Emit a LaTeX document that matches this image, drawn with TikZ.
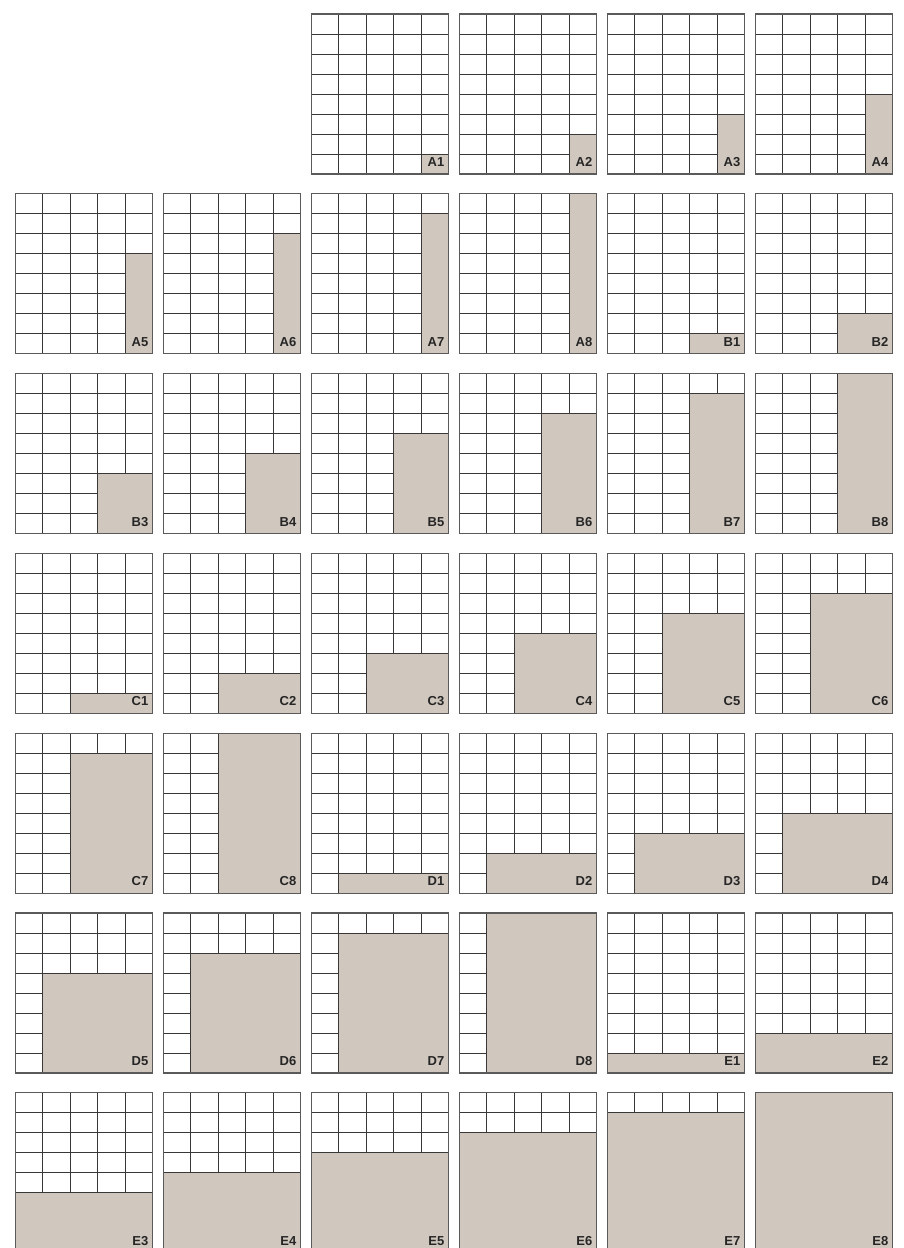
\documentclass[tikz,border=0pt]{standalone}
\usepackage{fontspec}
\setsansfont{Liberation Sans}
\usepackage{tikz}
\definecolor{filled}{HTML}{D0C7BE}
\definecolor{gridc}{HTML}{383838}
\definecolor{framec}{HTML}{5A5A5A}
\definecolor{tagc}{HTML}{262626}
\tikzset{
  cellline/.style={draw=gridc, line width=1pt},
  panelframe/.style={draw=framec, line width=1.2pt},
  block/.style={fill=filled},
  tag/.style={font=\sffamily\bfseries\fontsize{13}{13}\selectfont, text=tagc,
              inner sep=0pt, anchor=base east},
}

\begin{document}
\begin{tikzpicture}[x=1pt, y=-1pt]
\useasboundingbox (0,0) rectangle (903,1248);
\clip (0,0) rectangle (903,1248);
% 40 panels, two empty slots at the top left
\foreach \letter [count=\k] in {A,B,C,D,E} {
  \foreach \n in {1,...,8} {
    \pgfmathtruncatemacro\slot{(\k-1)*8+\n+1}
    \pgfmathtruncatemacro\pcol{mod(\slot,6)}
    \pgfmathtruncatemacro\prow{div(\slot,6)}
    \pgfmathsetmacro\lx{15.5+148*\pcol}
    \pgfmathsetmacro\ty{14+179.8*\prow}
    \begin{scope}[shift={(\lx,\ty)}]
      \foreach \i in {1,...,4} \draw[cellline] (27.4*\i,0) -- (27.4*\i,160);
      \foreach \j in {1,...,7} \draw[cellline] (0,20*\j) -- (137,20*\j);
      % shaded block: \k columns wide, \n rows high
      \draw[cellline, block] ({27.4*(5-\k)},{20*(8-\n)}) rectangle (137,160);
      \draw[panelframe] (0,0) rectangle (137,160);
      \node[tag] (\letter\n) at (133,152.5) {\letter\n};
    \end{scope}
  }
}
\end{tikzpicture}
\end{document}
